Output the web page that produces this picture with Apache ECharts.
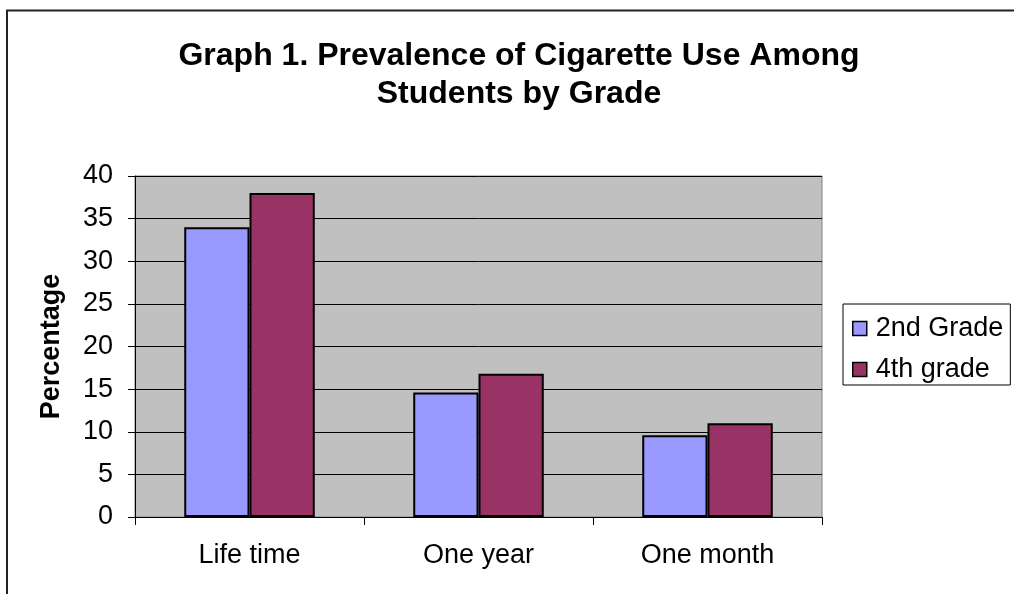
<!DOCTYPE html>
<html><head><meta charset="utf-8">
<script src="https://cdn.jsdelivr.net/npm/echarts@6/dist/echarts.min.js"></script>
<style>html,body{margin:0;padding:0;background:#fff}#c{width:1014px;height:594px}</style>
</head><body><div id="c"></div>
<script>
var categories = ['Life time', 'One year', 'One month'];
var grade2 = [34, 14.6, 9.6];
var grade4 = [38, 16.8, 11];
var seriesNames = ['2nd Grade', '4th grade'];
var titleText = 'Graph 1. Prevalence of Cigarette Use Among\nStudents by Grade';
var yName = 'Percentage';

var FONT = '"Liberation Sans", Arial, sans-serif';
var chart = echarts.init(document.getElementById('c'), null, {renderer: 'canvas'});
chart.setOption({
  animation: false,
  backgroundColor: '#fff',
  textStyle: {fontFamily: FONT},
  title: {
    text: titleText,
    left: 514, top: 32, textAlign: 'center',
    textStyle: {fontFamily: FONT, fontSize: 32, fontWeight: 'bold', color: '#000', lineHeight: 38}
  },
  graphic: [{
    type: 'rect', silent: true, z: 100,
    shape: {x: 7, y: 10.5, width: 1030, height: 620},
    style: {fill: 'none', stroke: '#222', lineWidth: 2}
  }],
  legend: {
    orient: 'vertical', left: 843, top: 304,
    padding: [11, 7, 2, 9], itemGap: 14,
    itemWidth: 14, itemHeight: 14,
    borderColor: '#000', borderWidth: 1,
    icon: 'rect',
    textStyle: {fontFamily: FONT, fontSize: 27, color: '#000', padding: [0, 0, 0, 4]},
    itemStyle: {borderColor: '#000', borderWidth: 1.5},
    data: seriesNames
  },
  grid: {left: 135, right: 192, top: 176, bottom: 77, show: true, backgroundColor: '#c0c0c0', borderColor: '#808080', borderWidth: 1},
  xAxis: {
    type: 'category', data: categories,
    axisLine: {lineStyle: {color: '#000', width: 1}},
    axisTick: {show: true, length: 8, lineStyle: {color: '#000'}},
    axisLabel: {fontFamily: FONT, fontSize: 27, color: '#000', margin: 25},
    splitLine: {show: false}
  },
  yAxis: {
    type: 'value', min: 0, max: 40, interval: 5,
    name: yName, nameLocation: 'middle', nameGap: 70,
    nameTextStyle: {fontFamily: FONT, fontSize: 27, fontWeight: 'bold', color: '#000'},
    axisLine: {show: true, lineStyle: {color: '#000', width: 1}},
    axisTick: {show: true, length: 7, lineStyle: {color: '#000'}},
    axisLabel: {fontFamily: FONT, fontSize: 27, color: '#000', margin: 22},
    splitLine: {show: true, lineStyle: {color: '#000', width: 1}}
  },
  series: [
    {name: seriesNames[0], type: 'bar', data: grade2, barGap: '0%', barCategoryGap: '43%',
     itemStyle: {color: '#9999ff', borderColor: '#000', borderWidth: 2}},
    {name: seriesNames[1], type: 'bar', data: grade4, barGap: '0%', barCategoryGap: '43%',
     itemStyle: {color: '#993366', borderColor: '#000', borderWidth: 2}}
  ]
});
</script></body></html>
